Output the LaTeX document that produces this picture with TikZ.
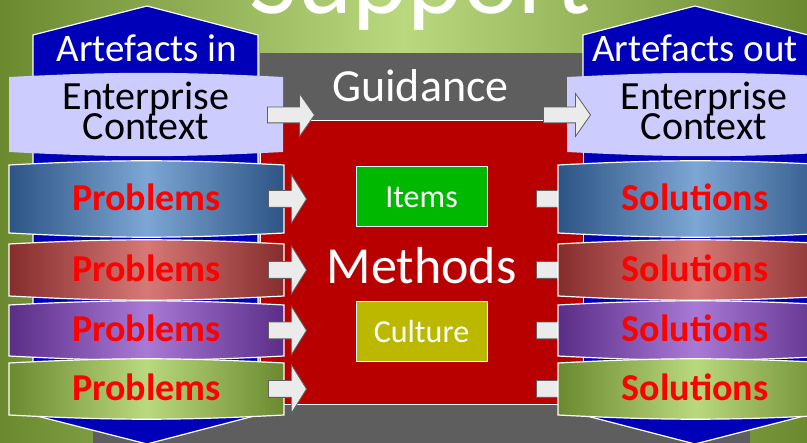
\documentclass[tikz,border=0pt]{standalone}
\usepackage{fontspec}
\setmainfont{Carlito}
\usetikzlibrary{shapes.arrows}

\definecolor{bgedge}{RGB}{107,138,48}
\definecolor{bgmid}{RGB}{186,216,126}
\definecolor{panelgray}{RGB}{94,94,94}
\definecolor{hexblue}{RGB}{0,0,184}
\definecolor{methred}{RGB}{184,0,0}
\definecolor{ctxlav}{RGB}{204,204,255}
\definecolor{itemgreen}{RGB}{0,184,0}
\definecolor{cultolive}{RGB}{188,184,0}
\definecolor{arrowfill}{RGB}{235,235,235}
\definecolor{arrowline}{RGB}{96,96,96}
\definecolor{blueE}{RGB}{45,84,132}
\definecolor{blueM}{RGB}{124,166,212}
\definecolor{redE}{RGB}{133,45,45}
\definecolor{redM}{RGB}{214,120,118}
\definecolor{purpE}{RGB}{90,45,135}
\definecolor{purpM}{RGB}{168,122,214}
\definecolor{greenE}{RGB}{107,138,48}
\definecolor{greenM}{RGB}{186,216,126}

\begin{document}
\begin{tikzpicture}[
    x=1pt, y=-1pt,
    rowbox/.style={draw=white, line width=1.2pt},
    hexa/.style={fill=hexblue, draw=white, line width=1.2pt},
    tag/.style={draw=white, line width=1pt, minimum width=131pt, minimum height=60pt, text=white, font=\fontsize{32}{36}\selectfont},
    probtext/.style={text=red, font=\fontsize{38}{44}\selectfont\bfseries, inner sep=0pt},
    ctxtext/.style={align=center, font={\fontsize{40}{30}\selectfont\lineskiplimit=-100pt}, inner sep=0pt},
    head/.style={text=white, font=\fontsize{39}{44}\selectfont, anchor=base, inner sep=0pt},
    rowarrow/.style={single arrow, draw=arrowline, fill=arrowfill, line width=0.8pt, inner xsep=0pt, inner ysep=8pt, single arrow head extend=16pt, single arrow tip angle=116, minimum height=38pt, anchor=tip},
    toparrow/.style={rowarrow, inner ysep=7.5pt, single arrow head extend=13.5pt, single arrow tip angle=110, minimum height=47pt}
]
    \useasboundingbox (0,0) rectangle (807,443);
    \clip (0,0) rectangle (807,443);

    % 1. Background and title
    \fill[left color=bgedge, right color=bgedge, middle color=bgmid] (0,0) rectangle (807,443);
    \node[text=white, font=\fontsize{105}{120}\selectfont, anchor=base, inner sep=0pt] (title) at (420,14) {Support};

    % 2. Gray panel and blue columns
    \fill[panelgray] (260,53) rectangle (583,443);
    \fill[panelgray] (93,400) rectangle (750,443);
    \draw[hexa] (33,35) -- (147,6) -- (258,35) -- (258,415) -- (147,444) -- (33,415) -- cycle;
    \draw[hexa] (583,35) -- (695,6) -- (808,35) -- (808,415) -- (695,444) -- (583,415) -- cycle;

    % 3. Methods block
    \node[fill=methred, draw=white, line width=1pt, minimum width=323pt, minimum height=284pt, inner sep=0pt] (methbox) at (421.5,263) {};
    \node[text=white, font=\fontsize{46}{50}\selectfont, inner sep=0pt] (guide) at (420.5,86) {Guidance};
    \node[text=white, font=\fontsize{52}{56}\selectfont, inner sep=0pt] (meth) at (421.5,266) {Methods};
    \node[tag, fill=itemgreen] (items) at (421.5,197) {Items};
    \node[tag, fill=cultolive] (cult) at (421.5,332) {Culture};

    % 4. Context boxes
    \node[head] (artin) at (147,62) {Artefacts in};
    \node[head] (artout) at (695,62) {Artefacts out};
    \path[fill=ctxlav] (9,77) to[bend left=3] (283,77) -- (283,152) to[bend left=3] (9,152) -- cycle;
    \node[ctxtext] (ctxin) at (146,111) {Enterprise\\Context};
    \path[fill=ctxlav] (567,77) to[bend left=3] (841,77) -- (841,152) to[bend left=3] (567,152) -- cycle;
    \node[ctxtext] (ctxout) at (704,111) {Enterprise\\Context};
    \node[toparrow] (gin) at (315,115) {};
    \node[toparrow] (gout) at (591,115) {};

    % 5. Problem and solution rows
    \foreach \i/\ya/\yb/\ce/\cm in {1/165/233/blueE/blueM, 2/244/296/redE/redM, 3/305/356/purpE/purpM, 4/363/415/greenE/greenM}{
        \node[rowarrow] (out\i) at (575,{(\ya+\yb)/2}) {};
        \path[rowbox, left color=\ce, right color=\ce, middle color=\cm] (9,\ya) to[bend left=3] (284,\ya) -- (284,\yb) to[bend left=3] (9,\yb) -- cycle;
        \path[rowbox, left color=\ce, right color=\ce, middle color=\cm] (558,\ya) to[bend left=3] (833,\ya) -- (833,\yb) to[bend left=3] (558,\yb) -- cycle;
        \node[probtext] (prob\i) at (146.5,{(\ya+\yb)/2-2}) {Problems};
        \node[probtext] (sol\i) at (695,{(\ya+\yb)/2-2}) {Solutions};
        \node[rowarrow] (in\i) at (307,{(\ya+\yb)/2}) {};
    }
\end{tikzpicture}
\end{document}
